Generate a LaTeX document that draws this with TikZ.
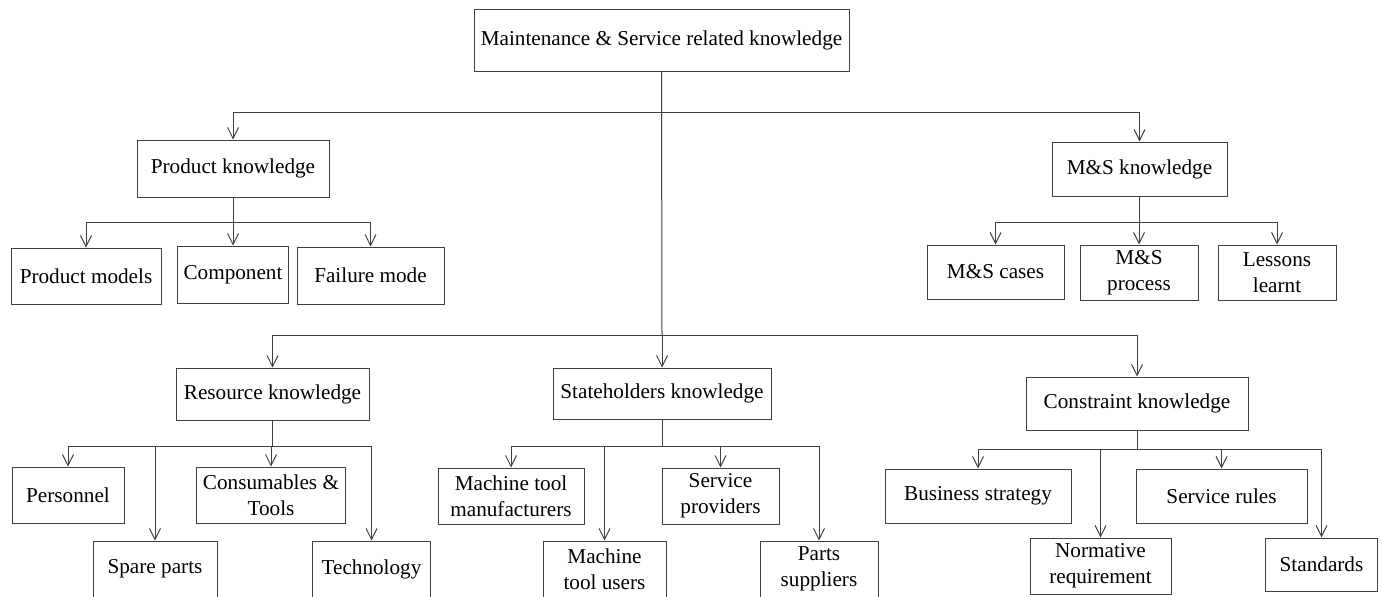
\documentclass[tikz,border=0pt]{standalone}
\usepackage{fontspec}
\setmainfont{Liberation Serif}
\usetikzlibrary{arrows.meta}
\begin{document}
\begin{tikzpicture}[x=1pt,y=-1pt,
  box/.style={draw=black!75,line width=1pt,inner sep=0pt,align=center,
    font=\fontsize{21.2}{26}\selectfont,text=black},
  ln/.style={draw=black!75,line width=1pt},
  arr/.style={ln,-{Straight Barb[length=11pt,width=11pt,line width=1pt]}}]
\path[use as bounding box,clip] (0,0) rectangle (1382,597);
\fill[white] (0,0) rectangle (1382,597);
% nodes
\node[box,minimum width=375pt,minimum height=62pt] (root) at (661.5,40) {Maintenance \& Service related knowledge};
\node[box,minimum width=192pt,minimum height=57pt] (prod) at (233,168.5) {Product knowledge};
\node[box,minimum width=175pt,minimum height=54pt] (ms) at (1139.5,169) {M\&S knowledge};
\node[box,minimum width=150pt,minimum height=56pt] (pm) at (86,276) {Product models};
\node[box,minimum width=111pt,minimum height=57pt] (comp) at (233,274.5) {Component};
\node[box,minimum width=147pt,minimum height=57pt] (fm) at (370.5,275.5) {Failure mode};
\node[box,minimum width=137pt,minimum height=54pt] (msc) at (995.5,272) {M\&S cases};
\node[box,minimum width=118pt,minimum height=55pt] (msp) at (1139,272.5) {M\&S\\process};
\node[box,minimum width=118pt,minimum height=55pt] (ll) at (1277,272.5) {Lessons\\learnt};
\node[box,minimum width=193pt,minimum height=52pt] (res) at (272.5,394) {Resource knowledge};
\node[box,minimum width=218pt,minimum height=51pt] (sta) at (662,393.5) {Stateholders knowledge};
\node[box,minimum width=222pt,minimum height=53pt] (con) at (1137,403.5) {Constraint knowledge};
\node[box,minimum width=112pt,minimum height=56pt] (pers) at (68,495) {Personnel};
\node[box,minimum width=149pt,minimum height=56pt] (cons) at (271,495) {Consumables \&\\Tools};
\node[box,minimum width=124pt,minimum height=56pt] (spare) at (155,569) {Spare parts};
\node[box,minimum width=118pt,minimum height=56pt] (tech) at (371.5,569) {Technology};
\node[box,minimum width=146pt,minimum height=56pt] (mtm) at (511,496) {Machine tool\\manufacturers};
\node[box,minimum width=117pt,minimum height=56pt] (sp) at (720.5,496) {Service\\providers};
\node[box,minimum width=123pt,minimum height=56pt] (mtu) at (604.5,569) {Machine\\tool users};
\node[box,minimum width=118pt,minimum height=56pt] (ps) at (819,569) {Parts\\suppliers};
\node[box,minimum width=186pt,minimum height=54pt] (bs) at (978,496) {Business strategy};
\node[box,minimum width=171pt,minimum height=54pt] (sr) at (1221.5,496) {Service rules};
\node[box,minimum width=141pt,minimum height=56pt] (norm) at (1100.5,566) {Normative\\requirement};
\node[box,minimum width=112pt,minimum height=53pt] (std) at (1321.5,564.5) {Standards};
% bus points
\coordinate (b1) at (662,112);
\coordinate (b2) at (662,335);
\coordinate (pb) at (233,222);
\coordinate (mb) at (1139.5,222);
\coordinate (rb) at (272.5,446);
\coordinate (sb) at (662,446);
\coordinate (cb) at (1137,449);
% top level
\draw[ln] (root.south) -- (b2);
\draw[arr] (b1) -| (prod);
\draw[arr] (b1) -| (ms);
\draw[arr] (b2) -| (res);
\draw[arr] (b2) -- (sta);
\draw[arr] (b2) -| (con);
% product
\draw[ln] (prod.south) -- (pb);
\draw[arr] (pb) -| (pm);
\draw[arr] (pb) -- (comp);
\draw[arr] (pb) -| (fm);
% M&S
\draw[ln] (ms.south) -- (mb);
\draw[arr] (mb) -| (msc);
\draw[arr] (mb) -| (msp);
\draw[arr] (mb) -| (ll);
% resource
\draw[ln] (res.south) -- (rb);
\draw[arr] (rb) -| (pers);
\draw[arr] (rb) -| (spare);
\draw[arr] (rb) -| (cons);
\draw[arr] (rb) -| (tech);
% stakeholders
\draw[ln] (sta.south) -- (sb);
\draw[arr] (sb) -| (mtm);
\draw[arr] (sb) -| (mtu);
\draw[arr] (sb) -| (sp);
\draw[arr] (sb) -| (ps);
% constraint
\draw[ln] (con.south) -- (cb);
\draw[arr] (cb) -| (bs);
\draw[arr] (cb) -| (norm);
\draw[arr] (cb) -| (sr);
\draw[arr] (cb) -| (std);
\end{tikzpicture}
\end{document}
